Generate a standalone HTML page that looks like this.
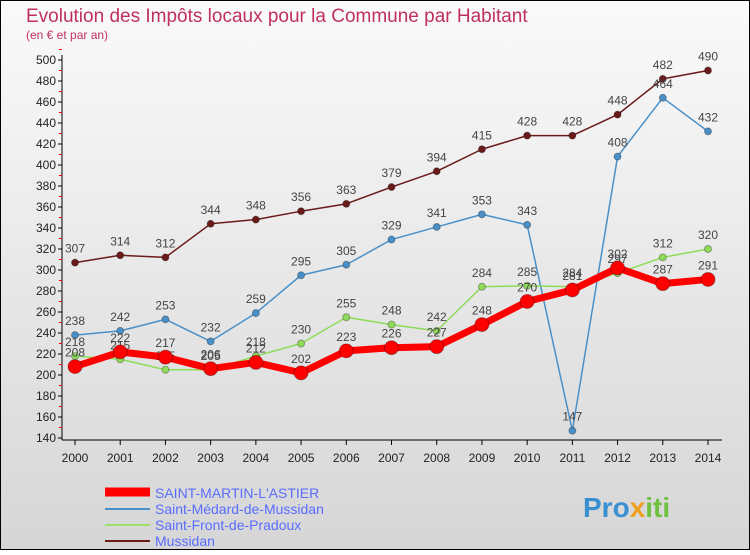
<!DOCTYPE html>
<html><head><meta charset="utf-8"><style>
body{margin:0;width:750px;height:550px;overflow:hidden;font-family:"Liberation Sans",sans-serif}
</style></head><body>
<svg id="c" width="750" height="550" xmlns="http://www.w3.org/2000/svg">
<defs><linearGradient id="bg" x1="0" y1="0" x2="0" y2="1"><stop offset="0" stop-color="#fafafa"/><stop offset="1" stop-color="#d6d6d6"/></linearGradient></defs>
<rect x="0.5" y="0.5" width="749" height="549" fill="url(#bg)" stroke="#000"/>
<text x="26" y="22" font-size="19" fill="#c0305e">Evolution des Impôts locaux pour la Commune par Habitant</text>
<text x="26" y="39" font-size="12" fill="#c0305e">(en € et par an)</text>
<g id="axes"></g><g id="series"></g>
<g>
<line x1="105" y1="492" x2="150" y2="492" stroke="#f00" stroke-width="9"/>
<text x="155" y="498" font-size="14" fill="#5a6cff">SAINT-MARTIN-L'ASTIER</text>
<line x1="105" y1="509" x2="150" y2="509" stroke="#4a90c8" stroke-width="2"/>
<text x="155" y="514" font-size="14" fill="#5a6cff">Saint-Médard-de-Mussidan</text>
<line x1="105" y1="525" x2="150" y2="525" stroke="#9ee06a" stroke-width="2"/>
<text x="155" y="530" font-size="14" fill="#5a6cff">Saint-Front-de-Pradoux</text>
<line x1="105" y1="541" x2="150" y2="541" stroke="#6b1a1a" stroke-width="2"/>
<text x="155" y="546" font-size="14" fill="#5a6cff">Mussidan</text>
</g>
<text x="583" y="517" font-size="28" font-weight="bold" fill="#3a8fd0">Pro<tspan fill="#f0a020">x</tspan><tspan fill="#70c040">iti</tspan></text>
</svg>
<script>
const years=[2000,2001,2002,2003,2004,2005,2006,2007,2008,2009,2010,2011,2012,2013,2014];
const yTicks=[140,160,180,200,220,240,260,280,300,320,340,360,380,400,420,440,460,480,500];
const mussidan=[307,314,312,344,348,356,363,379,394,415,428,428,448,482,490];
const medard=[238,242,253,232,259,295,305,329,341,353,343,147,408,464,432];
const front=[218,215,205,205,218,230,255,248,242,284,285,284,297,312,320];
const martin=[208,222,217,206,212,202,223,226,227,248,270,281,302,287,291];
const NS="http://www.w3.org/2000/svg";
const X=i=>75+i*(708-75)/(years.length-1);
const Y=v=>438-(v-140)*(438-60)/(500-140);
function mk(t,a,p){const e=document.createElementNS(NS,t);for(const k in a)e.setAttribute(k,a[k]);p.appendChild(e);return e;}
const ax=document.getElementById('axes');
const yl=mk('line',{x1:62,y1:55,x2:62,y2:440,stroke:'#000'},ax);


const xl=mk('line',{x1:62,y1:440,x2:722,y2:440,stroke:'#000'},ax);


yTicks.forEach(v=>{
 mk('line',{x1:58,y1:Y(v),x2:62,y2:Y(v),stroke:'#000'},ax);
 mk('line',{x1:59,y1:Y(v+10),x2:62,y2:Y(v+10),stroke:'#f00'},ax);
 const t=mk('text',{x:56,y:Y(v)+4,'font-size':12,'text-anchor':'end',fill:'#222'},ax);
 t.textContent=v;
 
 
});
years.forEach((y,i)=>{
 mk('line',{x1:X(i),y1:440,x2:X(i),y2:445,stroke:'#000'},ax);
 const t=mk('text',{x:X(i),y:462,'font-size':12,'text-anchor':'middle',fill:'#222'},ax);
 t.textContent=y;
 
 
});
const sg=document.getElementById('series');
function draw(vals,color,w,r,name){
 const g=mk('g',{},sg);
 
 
 const pl=mk('polyline',{points:vals.map((v,i)=>X(i)+','+Y(v)).join(' '),fill:'none',stroke:color,'stroke-width':w,'stroke-linejoin':'round'},g);
 
 
 vals.forEach((v,i)=>{
  const c=mk('circle',{cx:X(i),cy:Y(v),r:r,fill:color,stroke:'rgba(0,0,0,0.3)'},g);
  
  
  const t=mk('text',{x:X(i),y:Y(v)-10,'font-size':12,'text-anchor':'middle',fill:'#444'},g);
  t.textContent=v;
  
  
 });
}
draw(mussidan,'#6b1a1a',1.5,3.5,'series-mussidan');
draw(medard,'#4a90c8',1.5,3.5,'series-saint-medard');
draw(front,'#8edc5a',1.5,3.5,'series-saint-front');
draw(martin,'#f00',7,7,'series-saint-martin');
</script>
</body></html>
